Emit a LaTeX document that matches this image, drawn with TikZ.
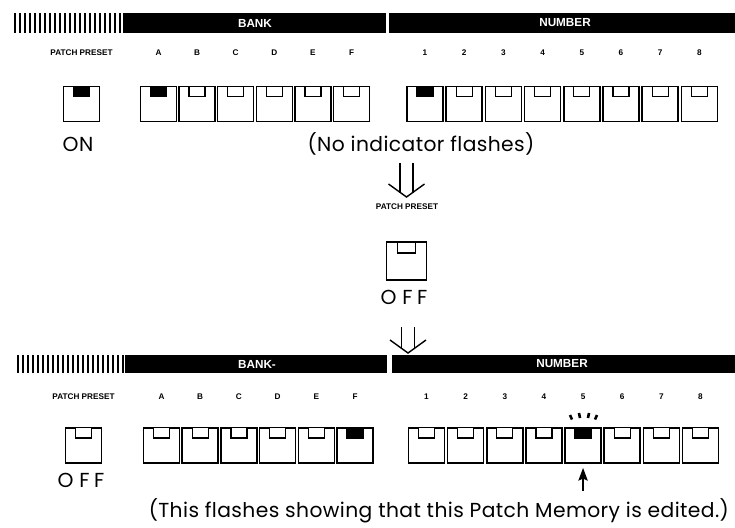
\documentclass[tikz,border=0pt]{standalone}
\usepackage{fontspec}
\setmainfont{Liberation Sans}
\newfontfamily\agfont[LetterSpace=2]{Poppins}
\usetikzlibrary{arrows.meta,positioning}

% open double arrow pointing down: #1 top, #2 tip
\newcommand{\dnarrow}[2]{%
  \draw[dbl] ([xshift=-0.2cm]#1) -- ([xshift=-0.2cm,yshift=0.13cm]#2);
  \draw[dbl] ([xshift=0.2cm]#1) -- ([xshift=0.2cm,yshift=0.13cm]#2);
  \draw[dbl] ([xshift=-0.54cm,yshift=0.39cm]#2) -- (#2) -- ([xshift=0.54cm,yshift=0.39cm]#2);}
\newcommand{\offtext}{O\kern5pt F\kern4pt F}

\begin{document}
\begin{tikzpicture}[
 x=0.03cm, y=-0.03cm,
 btn/.style={draw,line width=1.3pt,minimum width=1.08cm,minimum height=1.06cm,inner sep=0pt},
 led/.style={draw,line width=1.1pt,minimum width=0.48cm,minimum height=0.31cm,inner sep=0pt,anchor=north,fill=white},
 ledon/.style={led,fill=black},
 key/.style={font=\fontsize{7}{8}\selectfont\bfseries},
 bartext/.style={text=white,font=\fontsize{10}{12}\selectfont\bfseries},
 big/.style={font=\agfont\fontsize{17.3}{20}\selectfont},
 dbl/.style={line width=1.2pt},
 uparrow/.style={line width=1.3pt,-{Stealth[length=0.38cm,width=0.28cm,inset=0.06cm]}}
]
\useasboundingbox (0,0) rectangle (735,527);

%% upper panel
\foreach \x in {15,20,...,120} \draw[line width=1.3pt] (\x,13) -- (\x,33);
\fill (123,13) rectangle (386,33);
\fill (389,13) rectangle (735,33);
\node[bartext] (bank1) at (255,23) {BANK};
\node[bartext] (num1) at (565,23) {NUMBER};

\node[key] (pp1) at (81.5,53) {PATCH PRESET};
\node[btn] (pre1) at (81.5,104) {};
\node[ledon] at (pre1.north) {};
\foreach \l/\s [count=\i from 0] in {A/ledon,B/led,C/led,D/led,E/led,F/led} {
  \node[key] at (158.5+38.6*\i,53) {\l};
  \node[btn] (ta\l) at (158.5+38.6*\i,104) {};
  \node[\s] at (ta\l.north) {};
}
\foreach \n/\s [count=\i from 0] in {1/ledon,2/led,3/led,4/led,5/led,6/led,7/led,8/led} {
  \node[key] at (425+39.2*\i,53) {\n};
  \node[btn] (tn\n) at (425+39.2*\i,104) {};
  \node[\s] at (tn\n.north) {};
}
\node[big] (on) at (78,144) {ON};
\node[big] (noflash) at (421,144) {(No indicator flashes)};

%% middle step
\coordinate (a1) at (406.5,163);
\coordinate (a1t) at (406.5,197);
\dnarrow{a1}{a1t}
\node[key] (pp2) at (407,207) {PATCH PRESET};
\node[btn,minimum width=1.2cm,minimum height=1.14cm] (pre2) at (406.5,261) {};
\node[led,minimum width=0.52cm,minimum height=0.33cm] at (pre2.north) {};
\node[big] (off2) at (404,297) {\offtext};
\coordinate (a2) at (408,327);
\coordinate (a2t) at (408,353);
\dnarrow{a2}{a2t}

%% lower panel
\foreach \x in {18,23,...,123} \draw[line width=1.3pt] (\x,355) -- (\x,373);
\fill (125,355) rectangle (387,373);
\fill (392,355) rectangle (735,373);
\node[bartext] (bank2) at (257,364) {BANK-};
\node[bartext] (num2) at (562,364) {NUMBER};

\node[key] (pp3) at (83.5,397) {PATCH PRESET};
\node[btn] (pre3) at (83.5,445.5) {};
\node[led] at (pre3.north) {};
\foreach \l/\s [count=\i from 0] in {A/led,B/led,C/led,D/led,E/led,F/ledon} {
  \node[key] at (161.5+38.7*\i,397) {\l};
  \node[btn] (ba\l) at (161.5+38.7*\i,445.5) {};
  \node[\s] at (ba\l.north) {};
}
\foreach \n/\s [count=\i from 0] in {1/led,2/led,3/led,4/led,5/ledon,6/led,7/led,8/led} {
  \node[key] at (426.5+39.14*\i,397) {\n};
  \node[btn] (bn\n) at (426.5+39.14*\i,445.5) {};
  \node[\s] at (bn\n.north) {};
}
% flash marks
\draw[line width=2.2pt] (570,415) -- (572,419.5) (579,413) -- (580,418)
  (589,413) -- (588,418) (597,415) -- (595,419.5);
\node[big] (off3) at (81,480) {\offtext};
\node[big,anchor=east] (note) at (733,511) {(This flashes showing that this Patch Memory is edited.)};
\draw[uparrow,shorten <=0.12cm,shorten >=0.12cm] (note.north -| bn5.south) -- (bn5.south);
\end{tikzpicture}
\end{document}
